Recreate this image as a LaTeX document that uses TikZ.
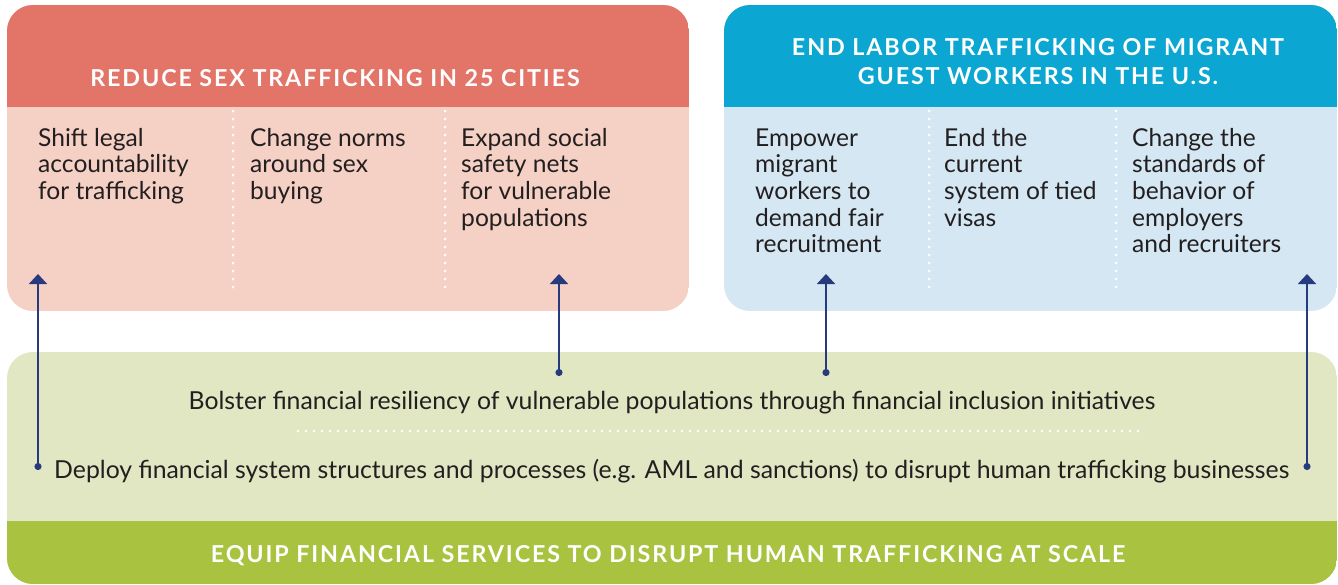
\documentclass[tikz,border=0pt]{standalone}
\usepackage{fontspec}
\setmainfont{Lato}
\newfontfamily\headfont[LetterSpace=8]{Lato}
\usetikzlibrary{arrows.meta}

\definecolor{sexhead}{HTML}{E37468}
\definecolor{sexbody}{HTML}{F5D0C4}
\definecolor{laborhead}{HTML}{0BA6D2}
\definecolor{laborbody}{HTML}{D4E7F2}
\definecolor{finbody}{HTML}{E1E7C3}
\definecolor{finhead}{HTML}{A9C23F}
\definecolor{navy}{HTML}{263A7E}
\definecolor{ink}{HTML}{231F20}

\tikzset{
  coltext/.style={anchor=base west, align=left, text=ink, inner sep=0pt,
    font=\fontsize{24.6}{26.7}\selectfont},
  fintext/.style={text=ink, inner sep=0pt, font=\fontsize{24.8}{26.7}\selectfont},
  headtext/.style={anchor=base, text=white, align=center, inner sep=0pt,
    font=\headfont\bfseries\fontsize{23.3}{28.5}\selectfont},
  dotline/.style={white, line width=3pt, line cap=round, dash pattern=on 0pt off 8pt},
  link/.style={navy, line width=1.8pt, {Circle[length=7pt]}-{Triangle[width=18pt,length=10pt]}},
}

\begin{document}
\begin{tikzpicture}[x=1pt,y=-1pt]
\useasboundingbox (0,0) rectangle (1338,584);

%sex trafficking box
\begin{scope}
\clip[rounded corners=26] (7,5) rectangle (689,311);
\fill[sexbody] (7,5) rectangle (689,311);
\fill[sexhead] (7,5) rectangle (689,107);
\end{scope}
\node[headtext] (sexgoal) at (335,86) {REDUCE SEX TRAFFICKING IN 25 CITIES};
\draw[dotline] (233,111) -- (233,290);
\draw[dotline] (445,111) -- (445,290);
% base = last line, first line at 146
\node[coltext] (legal) at (38,199.4) {Shift legal\\accountability\\for trafficking};
\node[coltext] (norms) at (250,199.4) {Change norms\\around sex\\buying};
\node[coltext] (safety) at (461,226.1) {Expand social\\safety nets\\for vulnerable\\populations};

%labor trafficking box
\begin{scope}
\clip[rounded corners=26] (724,5) rectangle (1337,311);
\fill[laborbody] (724,5) rectangle (1337,311);
\fill[laborhead] (724,5) rectangle (1337,107);
\end{scope}
\node[headtext] (laborgoal) at (1038,84) {END LABOR TRAFFICKING OF MIGRANT\\GUEST WORKERS IN THE U.S.};
\draw[dotline] (929,111) -- (929,290);
\draw[dotline] (1116,111) -- (1116,290);
\node[coltext] (empower) at (755,252.8) {Empower\\migrant\\workers to\\demand fair\\recruitment};
\node[coltext] (visas) at (944,226.1) {End the\\current\\system of tied\\visas};
\node[coltext] (standards) at (1132,252.8) {Change the\\standards of\\behavior of\\employers\\and recruiters};

%financial services box
\begin{scope}
\clip[rounded corners=26] (7,352) rectangle (1337,584);
\fill[finbody] (7,352) rectangle (1337,584);
\fill[finhead] (7,521) rectangle (1337,584);
\end{scope}
\node[headtext] (fingoal) at (668,562) {EQUIP FINANCIAL SERVICES TO DISRUPT HUMAN TRAFFICKING AT SCALE};
\node[fintext, anchor=base] (bolster) at (672,409) {Bolster financial resiliency of vulnerable populations through financial inclusion initiatives};
\draw[dotline] (298,431) -- (1143,431);
\node[fintext, anchor=base west] (deploy) at (54,478) {Deploy financial system structures and processes (e.g. AML and sanctions) to disrupt human trafficking businesses};

%links
\coordinate (deployL) at (38,470);
\coordinate (deployR) at (1307,470);
\coordinate (bolsterL) at (559,376);
\coordinate (bolsterR) at (826,376);
\draw[link] (deployL) -- (deployL |- 0,274);
\draw[link] (bolsterL) -- (bolsterL |- 0,274);
\draw[link] (bolsterR) -- (bolsterR |- 0,274);
\draw[link] (deployR) -- (deployR |- 0,274);

\end{tikzpicture}
\end{document}
